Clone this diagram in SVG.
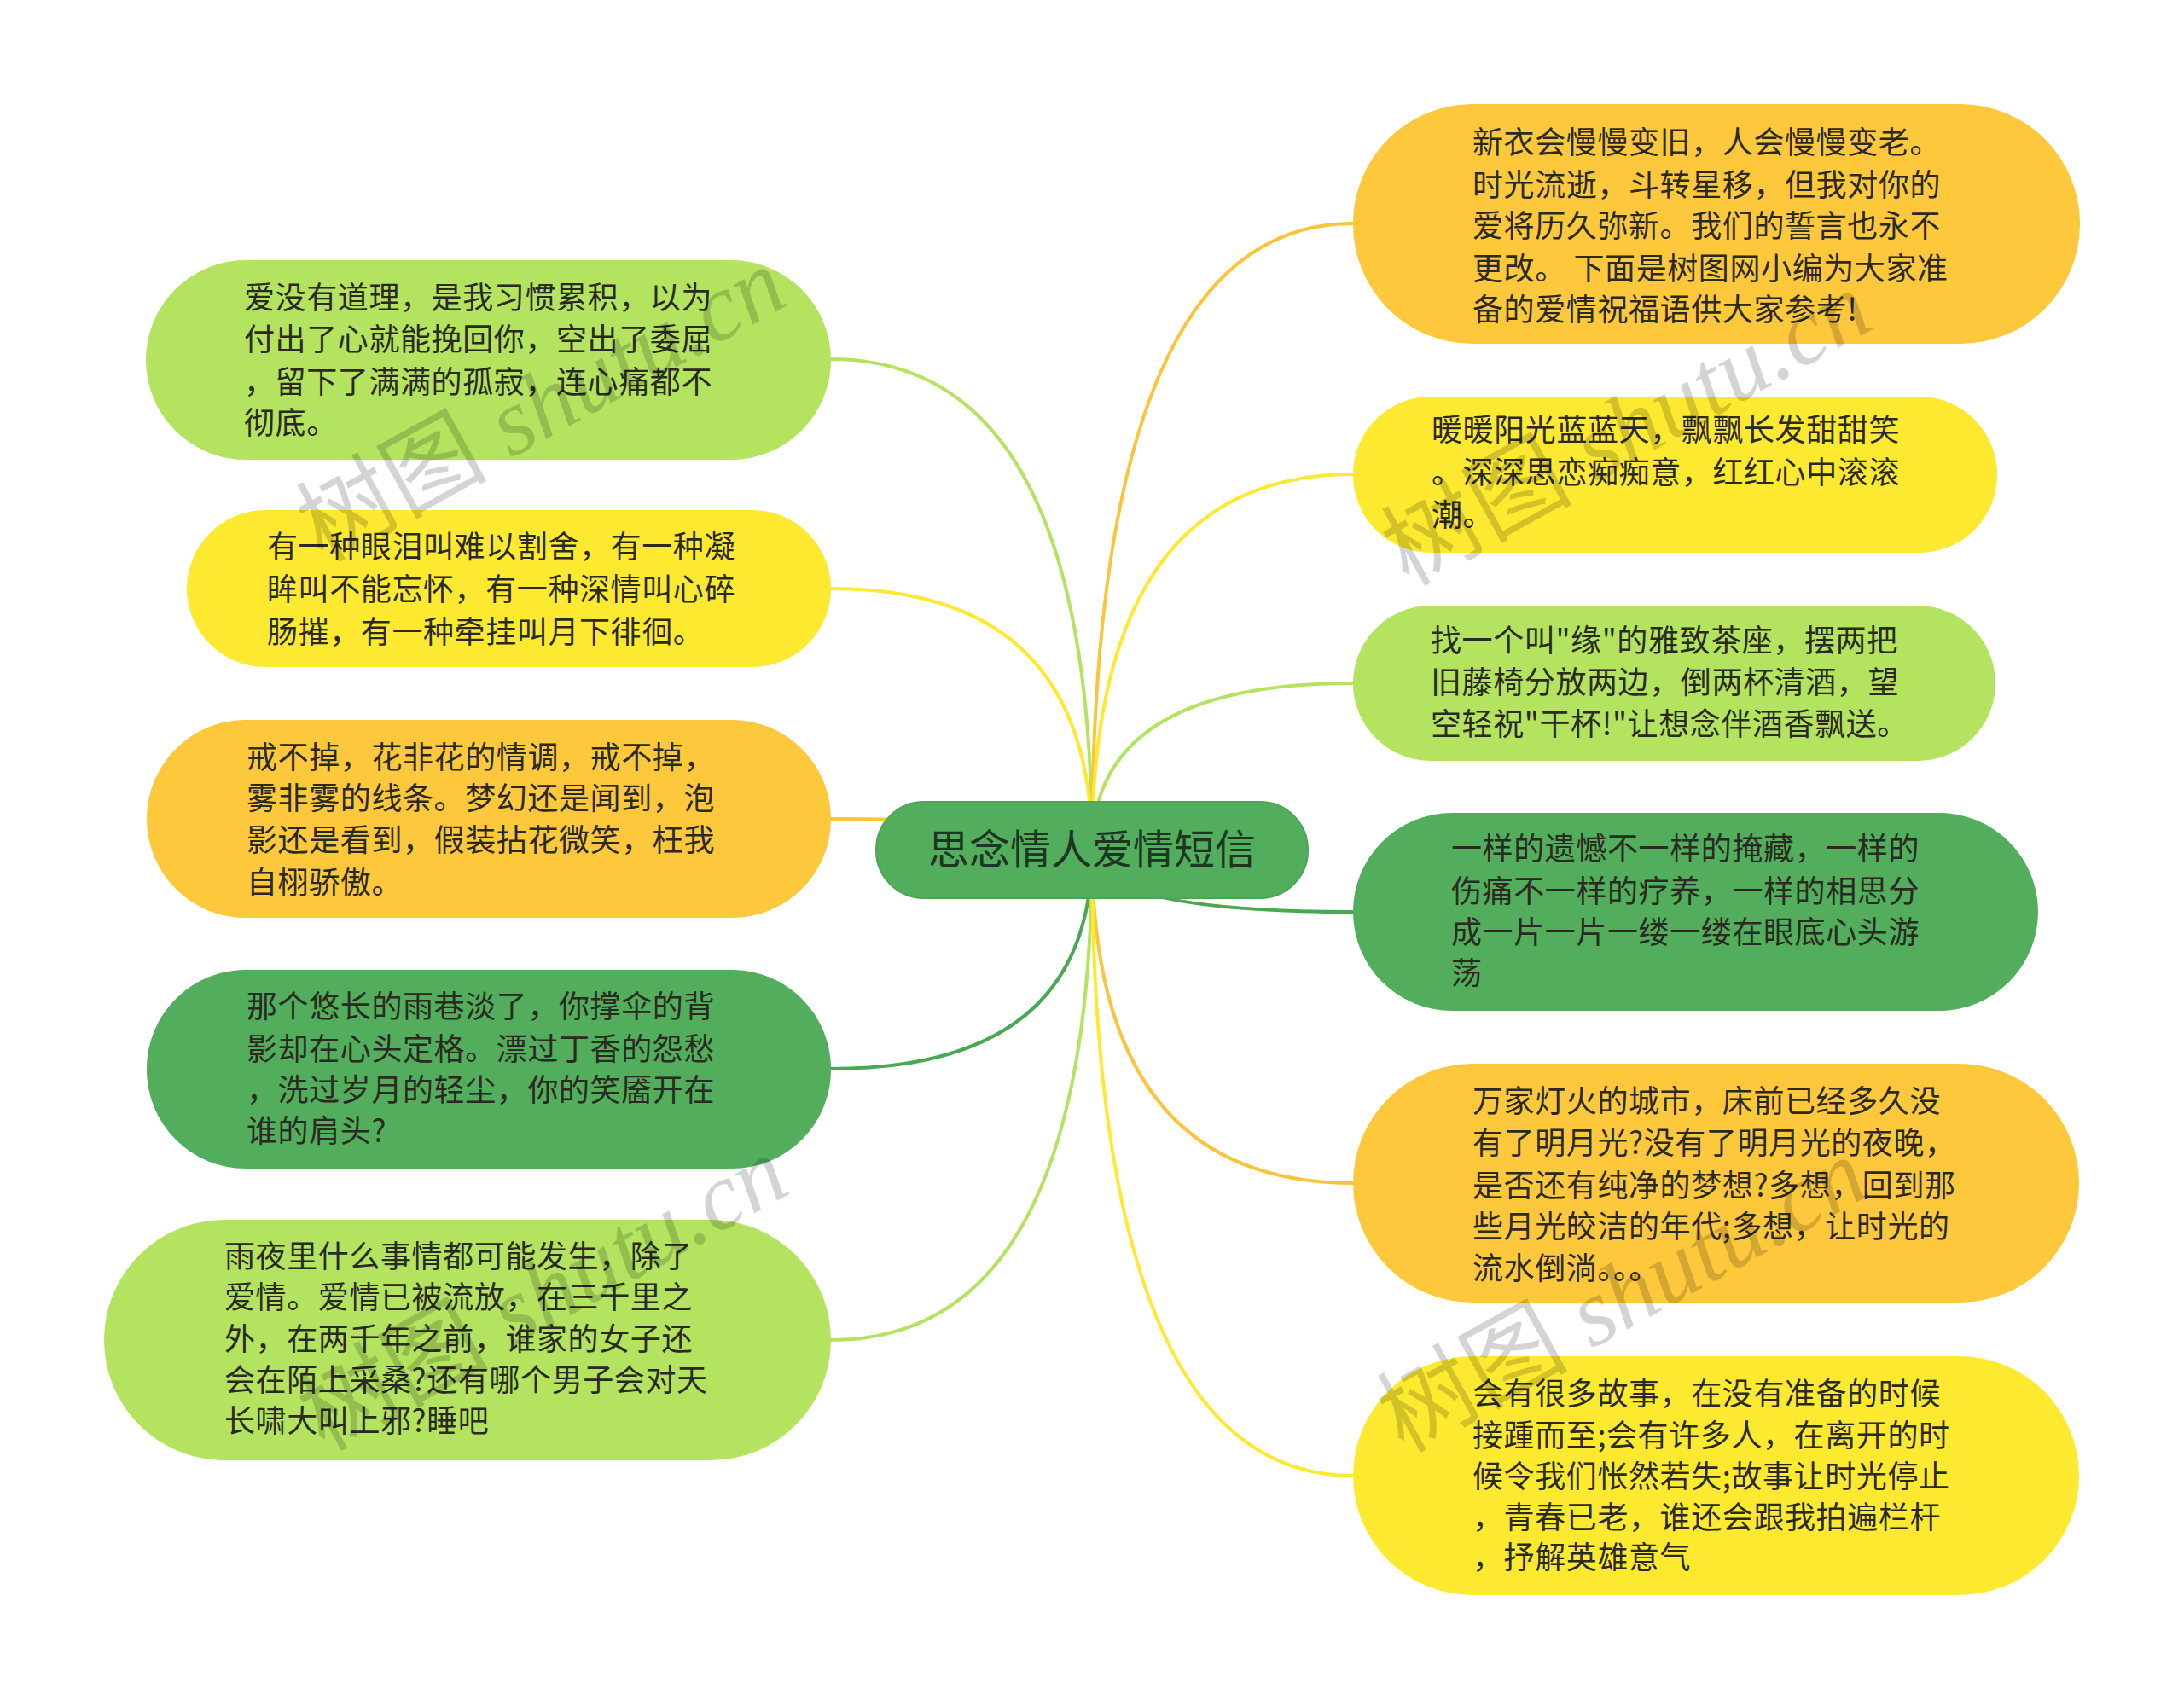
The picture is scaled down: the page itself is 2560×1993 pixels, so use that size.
<svg xmlns="http://www.w3.org/2000/svg" width="2560" height="1993" viewBox="0 0 2560 1993">
<style>
.bg{fill:#ffffff}
.lime{fill:#b3e35f}
.yel{fill:#fdea30}
.org{fill:#fdc83c}
.grn{fill:#52ae5c}
.c{fill:none;stroke-width:4;stroke-linecap:round}
.cl{stroke:#b3e35f}
.cy{stroke:#fdea30}
.co{stroke:#fbc43a}
.cg{stroke:#48a853}
.t{font-family:"Noto Sans CJK SC","Noto Sans",sans-serif;font-size:36px;letter-spacing:0.6px;fill:#2a2a22}
.tc{font-family:"Noto Sans CJK SC","Noto Sans",sans-serif;font-size:48px;fill:#1f3524;text-anchor:middle}
.wm{font-family:"Liberation Serif","Noto Sans CJK SC",serif;font-size:112px;fill:#000;fill-opacity:0.17}
.wm .it{font-style:italic}
</style>
<rect class="bg" x="0" y="0" width="2560" height="1993"/>
<g id="connectors">
<path class="c cl" d="M1280,996 Q1280,421 974,421"/>
<path class="c cy" d="M1280,996 Q1280,690 974,690"/>
<path class="c co" d="M1280,996 Q1280,960 974,960"/>
<path class="c cg" d="M1280,996 Q1280,1253 974,1253"/>
<path class="c cl" d="M1280,996 Q1280,1571 974,1571"/>
<path class="c co" d="M1280,996 Q1280,262 1586,262"/>
<path class="c cy" d="M1280,996 Q1280,556 1586,556"/>
<path class="c cl" d="M1280,996 Q1280,801 1586,801"/>
<path class="c cg" d="M1280,996 Q1280,1069 1586,1069"/>
<path class="c co" d="M1280,996 Q1280,1387 1586,1387"/>
<path class="c cy" d="M1280,996 Q1280,1730 1586,1730"/>
</g>
<g id="center">
<rect class="grn" x="1027" y="940" width="506" height="113" rx="56" ry="56" stroke="#4aa555" stroke-width="2"/>
<text class="tc" x="1280" y="1013">思念情人爱情短信</text>
</g>
<g id="L1">
<rect class="lime" x="171" y="305" width="803" height="234" rx="117" ry="117"/>
<text class="t"><tspan x="286" y="362">爱没有道理，是我习惯累积，以为</tspan><tspan x="286" y="411">付出了心就能挽回你，空出了委屈</tspan><tspan x="286" y="461">，留下了满满的孤寂，连心痛都不</tspan><tspan x="286" y="509">彻底。</tspan></text>
</g>
<g id="L2">
<rect class="yel" x="219" y="598" width="755" height="184" rx="92" ry="92"/>
<text class="t"><tspan x="313" y="654">有一种眼泪叫难以割舍，有一种凝</tspan><tspan x="313" y="704">眸叫不能忘怀，有一种深情叫心碎</tspan><tspan x="313" y="754">肠摧，有一种牵挂叫月下徘徊。</tspan></text>
</g>
<g id="L3">
<rect class="org" x="172" y="844" width="802" height="232" rx="116" ry="116"/>
<text class="t"><tspan x="289" y="901">戒不掉，花非花的情调，戒不掉，</tspan><tspan x="289" y="949">雾非雾的线条。梦幻还是闻到，泡</tspan><tspan x="289" y="998">影还是看到，假装拈花微笑，枉我</tspan><tspan x="289" y="1048">自栩骄傲。</tspan></text>
</g>
<g id="L4">
<rect class="grn" x="172" y="1137" width="802" height="233" rx="116" ry="116"/>
<text class="t"><tspan x="289" y="1193">那个悠长的雨巷淡了，你撑伞的背</tspan><tspan x="289" y="1243">影却在心头定格。漂过丁香的怨愁</tspan><tspan x="289" y="1291">，洗过岁月的轻尘，你的笑靥开在</tspan><tspan x="289" y="1339">谁的肩头?</tspan></text>
</g>
<g id="L5">
<rect class="lime" x="122" y="1430" width="852" height="282" rx="141" ry="141"/>
<text class="t"><tspan x="263" y="1486">雨夜里什么事情都可能发生，除了</tspan><tspan x="263" y="1534">爱情。爱情已被流放，在三千里之</tspan><tspan x="263" y="1583">外，在两千年之前，谁家的女子还</tspan><tspan x="263" y="1631">会在陌上采桑?还有哪个男子会对天</tspan><tspan x="263" y="1679">长啸大叫上邪?睡吧</tspan></text>
</g>
<g id="R1">
<rect class="org" x="1586" y="122" width="852" height="281" rx="140" ry="140"/>
<text class="t"><tspan x="1726" y="180">新衣会慢慢变旧，人会慢慢变老。</tspan><tspan x="1726" y="230">时光流逝，斗转星移，但我对你的</tspan><tspan x="1726" y="278">爱将历久弥新。我们的誓言也永不</tspan><tspan x="1726" y="328">更改。 下面是树图网小编为大家准</tspan><tspan x="1726" y="376">备的爱情祝福语供大家参考!</tspan></text>
</g>
<g id="R2">
<rect class="yel" x="1586" y="465" width="755" height="183" rx="91" ry="91"/>
<text class="t"><tspan x="1678" y="517">暖暖阳光蓝蓝天，飘飘长发甜甜笑</tspan><tspan x="1678" y="567">。深深思恋痴痴意，红红心中滚滚</tspan><tspan x="1678" y="617">潮。</tspan></text>
</g>
<g id="R3">
<rect class="lime" x="1586" y="710" width="753" height="182" rx="91" ry="91"/>
<text class="t"><tspan x="1677" y="764">找一个叫"缘"的雅致茶座，摆两把</tspan><tspan x="1677" y="813">旧藤椅分放两边，倒两杯清酒，望</tspan><tspan x="1677" y="862">空轻祝"干杯!"让想念伴酒香飘送。</tspan></text>
</g>
<g id="R4">
<rect class="grn" x="1586" y="953" width="803" height="232" rx="116" ry="116"/>
<text class="t"><tspan x="1701" y="1008">一样的遗憾不一样的掩藏，一样的</tspan><tspan x="1701" y="1058">伤痛不一样的疗养，一样的相思分</tspan><tspan x="1701" y="1106">成一片一片一缕一缕在眼底心头游</tspan><tspan x="1701" y="1154">荡</tspan></text>
</g>
<g id="R5">
<rect class="org" x="1586" y="1247" width="851" height="280" rx="140" ry="140"/>
<text class="t"><tspan x="1726" y="1304">万家灯火的城市，床前已经多久没</tspan><tspan x="1726" y="1353">有了明月光?没有了明月光的夜晚，</tspan><tspan x="1726" y="1403">是否还有纯净的梦想?多想，回到那</tspan><tspan x="1726" y="1451">些月光皎洁的年代;多想，让时光的</tspan><tspan x="1726" y="1500">流水倒淌。。。</tspan></text>
</g>
<g id="R6">
<rect class="yel" x="1586" y="1590" width="851" height="280" rx="140" ry="140"/>
<text class="t"><tspan x="1726" y="1647">会有很多故事，在没有准备的时候</tspan><tspan x="1726" y="1696">接踵而至;会有许多人，在离开的时</tspan><tspan x="1726" y="1744">候令我们怅然若失;故事让时光停止</tspan><tspan x="1726" y="1792">，青春已老，谁还会跟我拍遍栏杆</tspan><tspan x="1726" y="1839">，抒解英雄意气</tspan></text>
</g>
<g id="watermarks">
<text class="wm" transform="translate(378,660) rotate(-29)">树图 <tspan class="it">shutu.cn</tspan></text>
<text class="wm" transform="translate(1650,688) rotate(-29)">树图 <tspan class="it">shutu.cn</tspan></text>
<text class="wm" transform="translate(380,1702) rotate(-29)">树图 <tspan class="it">shutu.cn</tspan></text>
<text class="wm" transform="translate(1645,1704) rotate(-29)">树图 <tspan class="it">shutu.cn</tspan></text>
</g>
</svg>
